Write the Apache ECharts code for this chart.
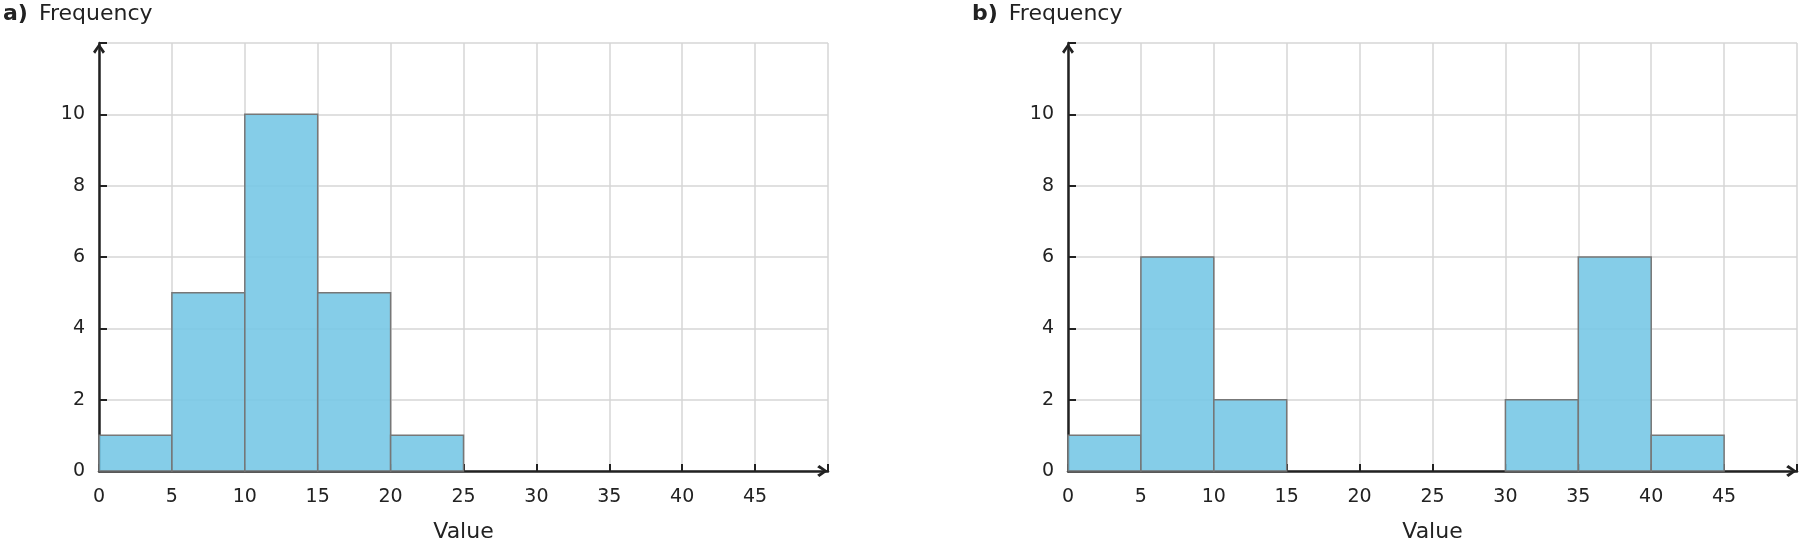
<!DOCTYPE html>
<html>
<head>
<meta charset="utf-8">
<title>Frequency histograms</title>
<script src="https://cdn.jsdelivr.net/npm/echarts@6/dist/echarts.min.js"></script>
<style>
  * { margin: 0; padding: 0; }
  html, body { background: #fff; }
  #main { width: 1801px; height: 548px; }
</style>
</head>
<body>
<div id="main"></div>
<script>
  // bin edges (width 5) and counts per bin
  let binStarts = [0, 5, 10, 15, 20, 25, 30, 35, 40, 45];
  let binWidth = 5;
  let countsA = [1, 5, 10, 5, 1, 0, 0, 0, 0, 0];
  let countsB = [1, 6, 2, 0, 0, 0, 2, 6, 1, 0];
  let xTicks = [0, 5, 10, 15, 20, 25, 30, 35, 40, 45];
  let yTicks = [0, 2, 4, 6, 8, 10];
  let panelTitles = ['a)', 'b)'];

  let myChart = echarts.init(document.getElementById('main'));
  let fontFam = '"DejaVu Sans", Verdana, sans-serif';
  let ink = '#222222';
  let gridLeft = [99, 1068];
  let titleLeft = [3, 972];

  // open chevron arrow head, pointing up in symbol space
  let arrowPath = 'path://M5.5,0 L11,7.8 L9,9.8 L5.5,4.2 L2,9.8 L0,7.8 Z';

  function toBins(counts) {
    let out = [];
    counts.forEach((c, i) => {
      if (c > 0) out.push([binStarts[i], binStarts[i] + binWidth, c]);
    });
    return out;
  }

  function renderBin(params, api) {
    let p0 = api.coord([api.value(0), api.value(2)]);
    let p1 = api.coord([api.value(1), 0]);
    return {
      type: 'rect',
      shape: { x: p0[0], y: p0[1], width: p1[0] - p0[0], height: p1[1] - p0[1] },
      style: { fill: 'rgba(120,200,230,0.9)', stroke: '#777777', lineWidth: 1.5 }
    };
  }

  let grids = [], xAxes = [], yAxes = [], series = [], titles = [];
  [countsA, countsB].forEach((counts, k) => {
    grids.push({ left: gridLeft[k], top: 43, width: 729, height: 428 });
    titles.push({
      text: '{b|' + panelTitles[k] + '} Frequency',
      left: titleLeft[k],
      top: 3,
      padding: 0,
      textStyle: {
        rich: {
          b: { fontFamily: fontFam, fontSize: 22, fontWeight: 'bold', color: ink, padding: [0, 4, 0, 0] }
        },
        fontFamily: fontFam, fontSize: 22, fontWeight: 'normal', color: ink
      }
    });
    xAxes.push({
      type: 'value',
      gridIndex: k,
      min: 0,
      max: 50,
      interval: 5,
      name: 'Value',
      nameLocation: 'middle',
      nameGap: 50,
      nameTextStyle: { fontFamily: fontFam, fontSize: 22, color: ink },
      axisLine: {
        show: true,
        lineStyle: { color: ink, width: 2.5 },
        symbol: ['none', arrowPath],
        symbolSize: [12, 11],
        symbolOffset: [0, -5.5]
      },
      axisTick: { show: true, inside: true, length: 7, lineStyle: { color: ink, width: 2 } },
      axisLabel: {
        fontFamily: fontFam, fontSize: 19, color: ink, margin: 17,
        formatter: v => (xTicks.indexOf(v) >= 0 ? String(v) : '')
      },
      splitLine: { show: true, lineStyle: { color: '#d6d6d6', width: 1.5 } }
    });
    yAxes.push({
      type: 'value',
      gridIndex: k,
      min: 0,
      max: 12,
      interval: 2,
      axisLine: {
        show: true,
        lineStyle: { color: ink, width: 2.5 },
        symbol: ['none', arrowPath],
        symbolSize: [12, 11],
        symbolOffset: [0, -5.5]
      },
      axisTick: { show: true, inside: true, length: 8, lineStyle: { color: ink, width: 2 } },
      axisLabel: {
        fontFamily: fontFam, fontSize: 19, color: ink, margin: 14,
        formatter: v => (yTicks.indexOf(v) >= 0 ? String(v) : '')
      },
      splitLine: { show: true, lineStyle: { color: '#d6d6d6', width: 1.5 } }
    });
    series.push({
      type: 'custom',
      xAxisIndex: k,
      yAxisIndex: k,
      renderItem: renderBin,
      encode: { x: [0, 1], y: 2 },
      data: toBins(counts),
      z: 1
    });
  });

  myChart.setOption({
    animation: false,
    title: titles,
    grid: grids,
    xAxis: xAxes,
    yAxis: yAxes,
    series: series
  });
</script>
</body>
</html>
